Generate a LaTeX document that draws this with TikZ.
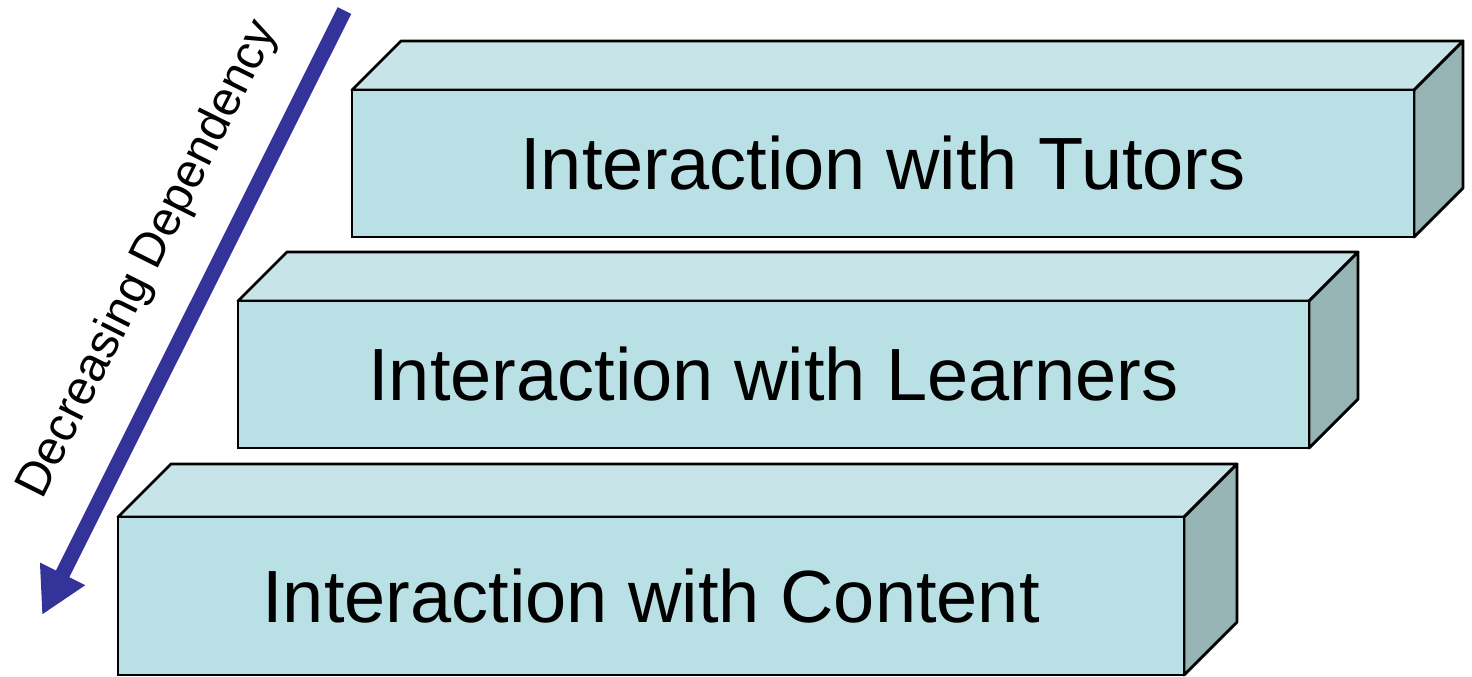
\documentclass[tikz,border=0pt]{standalone}
\usepackage{fontspec}
\setmainfont{Liberation Sans}
\usetikzlibrary{arrows.meta}
\definecolor{facecol}{RGB}{185,224,228}
\definecolor{lidcol}{RGB}{199,229,232}
\definecolor{sidecol}{RGB}{150,180,180}
\definecolor{depcol}{RGB}{51,51,153}

\begin{document}
\begin{tikzpicture}[x=0.5pt, y=-0.5pt,
	face/.style={draw, line width=1.4pt, fill=facecol},
	lid/.style={draw, line width=1.4pt, fill=lidcol, line join=round},
	side/.style={draw, line width=1.4pt, fill=sidecol, line join=round},
	boxtext/.style={font=\fontsize{37}{44}\selectfont, text centered}]
	\useasboundingbox (0,0) rectangle (1472,676);

	% top box
	\draw[lid]	(352,90) -- (401,41) -- (1463,41) -- (1414,90) -- cycle;
	\draw[side]	(1414,90) -- (1463,41) -- (1463,188) -- (1414,237) -- cycle;
	\draw[face]	(352,90) rectangle (1414,237);
	\node[boxtext] (tutors) at (883,163.5) {Interaction with Tutors};

	% middle box
	\draw[lid]	(238,301) -- (287,252) -- (1358,252) -- (1309,301) -- cycle;
	\draw[side]	(1309,301) -- (1358,252) -- (1358,399) -- (1309,448) -- cycle;
	\draw[face]	(238,301) rectangle (1309,448);
	\node[boxtext] (learners) at (773.5,374.5) {Interaction with Learners};

	% bottom box
	\draw[lid]	(118,517) -- (171,464) -- (1237,464) -- (1184,517) -- cycle;
	\draw[side]	(1184,517) -- (1237,464) -- (1237,622) -- (1184,675) -- cycle;
	\draw[face]	(118,517) rectangle (1184,675);
	\node[boxtext] (content) at (651,596) {Interaction with Content};

	% dependency arrow
	\coordinate (depstart) at (344.5,10.5);
	\coordinate (depend) at (42,615);
	\draw[depcol, line width=7.5pt, -{Triangle[length=23pt, width=23.5pt]}]
		(depstart) -- (depend);
	\node[anchor=base, rotate=63.43, inner sep=0pt, font=\fontsize{24}{29}\selectfont]
		(deplabel) at (160,265) {Decreasing Dependency};
\end{tikzpicture}
\end{document}
